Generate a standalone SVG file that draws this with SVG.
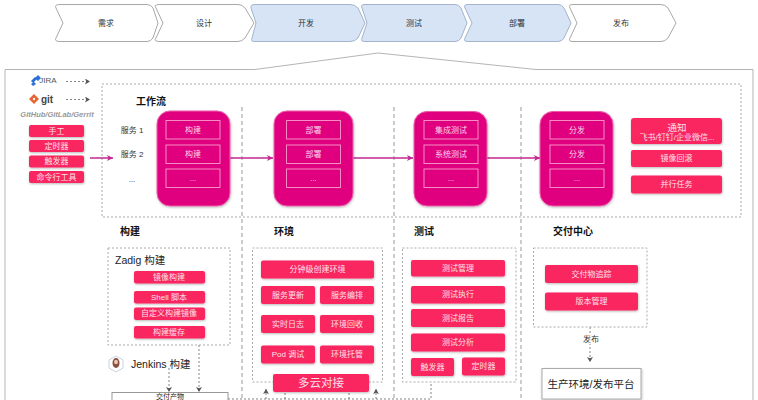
<svg xmlns="http://www.w3.org/2000/svg" width="758" height="400" viewBox="0 0 758 400">
<style>
text{font-family:"Liberation Sans","Noto Sans CJK SC",sans-serif;text-anchor:middle;dominant-baseline:central}
.w{fill:#fff;stroke:#a8a8a8;stroke-width:1}
.b{fill:#d6e4f6;stroke:#a3b4cc;stroke-width:1}
.st{font-size:8px;fill:#333}
.big{fill:#e0047f;stroke:#ec5cab;stroke-width:1;filter:url(#s)}
.in{fill:none;stroke:#f58cc4;stroke-width:1}
.iw{font-size:8px;fill:#fbd3e8}
.r{fill:#f92660;filter:url(#s)}
.rt{font-size:8px;fill:#fde0e8}
.h{font-size:10px;font-weight:bold;fill:#111}
.box{fill:none;stroke:#aaa;stroke-width:1;stroke-dasharray:2 2}
.dv{fill:none;stroke:#999;stroke-width:1;stroke-dasharray:4 3}
.dk{fill:none;stroke:#666;stroke-width:.8;stroke-dasharray:2 2}
.pa{fill:none;stroke:#c2278f;stroke-width:1.5}
.svc{font-size:8px;fill:#333}
</style>
<defs>
<filter id="s" x="-10%" y="-10%" width="125%" height="130%"><feDropShadow dx="0.5" dy="1" stdDeviation="0.8" flood-color="#000" flood-opacity="0.28"/></filter>
<marker id="ap" markerWidth="7" markerHeight="7" refX="6" refY="3" orient="auto" markerUnits="userSpaceOnUse"><path d="M0 0L6 3L0 6L1.5 3Z" fill="#c2278f"/></marker>
<marker id="ag" markerWidth="7" markerHeight="7" refX="5" refY="3" orient="auto" markerUnits="userSpaceOnUse"><path d="M0 0L5 3L0 6L1.2 3Z" fill="#555"/></marker>
</defs>
<rect width="758" height="400" fill="#fff"/>

<g id="stages">
<g id="stage-1"><path class="w" d="M60 4.500H147Q151 4.500 153 8L158 23L153 38Q151 41.500 147 41.500H60Q54 41.500 56 38L63 23L56 8Q54 4.500 60 4.500Z"/><text class="st" x="106" y="23">需求</text></g>
<g id="stage-2"><path class="w" d="M160 4.500H238Q242 4.500 245 8L254 23L245 38Q242 41.500 238 41.500H160Q153 41.500 156 38L163 23L156 8Q153 4.500 160 4.500Z"/><text class="st" x="204" y="23">设计</text></g>
<g id="stage-3"><path class="b" d="M255 4.500H350Q355 4.500 358 8L365 23L358 38Q355 41.500 350 41.500H255Q250 41.500 252 38L256 23L251 8Q250 4.500 255 4.500Z"/><text class="st" x="306" y="23">开发</text></g>
<g id="stage-4"><path class="b" d="M365 4.500H455Q459 4.500 461 8L467 23L461 38Q459 41.500 455 41.500H365Q360 41.500 362 38L367 23L362 8Q360 4.500 365 4.500Z"/><text class="st" x="414" y="23">测试</text></g>
<g id="stage-5"><path class="b" d="M468 4.500H558Q562 4.500 564 8L571 23L564 38Q562 41.500 558 41.500H468Q463 41.500 465 38L472 23L465 8Q463 4.500 468 4.500Z"/><text class="st" x="517" y="23">部署</text></g>
<g id="stage-6"><path class="w" d="M573 4.500H661Q665 4.500 668 8L676 23L668 38Q665 41.500 661 41.500H573Q568 41.500 570 38L577 23L570 8Q568 4.500 573 4.500Z"/><text class="st" x="621" y="23">发布</text></g>
</g>

<path id="frame" d="M5 400V69.500H255L378 53L536 69.500H753V400" fill="none" stroke="#b5b5b5" stroke-width="1"/>

<rect id="workflow-box" class="box" x="102" y="84" width="639" height="133"/>
<path class="dv" d="M242 107V400M394 107V400M521 107V400"/>

<g id="sources">
<g id="jira"><path d="M31 81L35 77L37 79L33 83ZM35 78L38 75L41 78L38 81ZM31 84l3 -2l2 2l-3 2Z" fill="#2a6fd6"/><text x="48" y="80.500" font-size="8" fill="#555">JIRA</text></g>
<g id="git"><path d="M34 94L39 99L34 104L29 99Z" fill="#e8632f"/><circle cx="34" cy="99" r="1.200" fill="#fff"/><text x="47" y="99" font-size="10" font-weight="bold" fill="#444">git</text></g>
<text x="57" y="114.500" font-size="7.500" font-style="italic" font-weight="bold" fill="#999">GitHub/GitLab/Gerrit</text>
<g id="trigger-1"><rect class="r" x="29" y="125" width="55" height="12" rx="2"/><text class="rt" x="56.500" y="131">手工</text></g>
<g id="trigger-2"><rect class="r" x="29" y="140" width="55" height="12" rx="2"/><text class="rt" x="56.500" y="146.500">定时器</text></g>
<g id="trigger-3"><rect class="r" x="29" y="155.500" width="55" height="12" rx="2"/><text class="rt" x="56.500" y="161.500">触发器</text></g>
<g id="trigger-4"><rect class="r" x="29" y="171" width="55" height="12" rx="2"/><text class="rt" x="56.500" y="177">命令行工具</text></g>
</g>

<text class="h" x="151" y="101.500">工作流</text>
<text class="svc" x="132" y="130">服务 1</text>
<text class="svc" x="132" y="154">服务 2</text>
<text class="svc" x="132" y="179">...</text>

<g id="connectors">
<path class="dk" d="M66 81.500H90" marker-end="url(#ag)"/>
<path class="dk" d="M66 99.500H90" marker-end="url(#ag)"/>
<path class="pa" d="M90 158H113" marker-end="url(#ap)"/>
<path class="pa" d="M230 158H273" marker-end="url(#ap)"/>
<path class="pa" d="M353 158H413" marker-end="url(#ap)"/>
<path class="pa" d="M487 158H540" marker-end="url(#ap)"/>
<path class="dk" d="M169 368V392" marker-end="url(#ag)"/>
<path class="dk" d="M199 345V392" marker-end="url(#ag)"/>
<path class="dk" d="M590 327V362" marker-end="url(#ag)"/>
<path class="dk" d="M228 399H431V382"/>
<path class="dk" d="M266 399V389" marker-end="url(#ag)"/>
<path class="dk" d="M376 399V389" marker-end="url(#ag)"/>
<path class="dk" d="M285 393V399M349 393V399"/>
</g>

<g id="build-stage"><rect class="big" x="157" y="111" width="73" height="95" rx="13"/>
<rect class="in" x="166" y="120.500" width="54" height="18.500"/><text class="iw" x="193" y="130">构建</text>
<rect class="in" x="166" y="145" width="54" height="18.500"/><text class="iw" x="193" y="154">构建</text>
<rect class="in" x="166" y="169" width="54" height="18.500"/><text class="iw" x="193" y="178">...</text></g>
<g id="deploy-stage"><rect class="big" x="274" y="111" width="79" height="95" rx="13"/>
<rect class="in" x="286.500" y="120.500" width="54" height="18.500"/><text class="iw" x="313.500" y="130">部署</text>
<rect class="in" x="286.500" y="145" width="54" height="18.500"/><text class="iw" x="313.500" y="154">部署</text>
<rect class="in" x="286.500" y="169" width="54" height="18.500"/><text class="iw" x="313.500" y="178">...</text></g>
<g id="test-stage"><rect class="big" x="414" y="111.500" width="73" height="94.500" rx="13"/>
<rect class="in" x="424" y="120.500" width="54" height="18.500"/><text class="iw" x="451" y="130">集成测试</text>
<rect class="in" x="424" y="145" width="54" height="18.500"/><text class="iw" x="451" y="154">系统测试</text>
<rect class="in" x="424" y="169" width="54" height="18.500"/><text class="iw" x="451" y="178">...</text></g>
<g id="release-stage"><rect class="big" x="540" y="111.500" width="73" height="94.500" rx="13"/>
<rect class="in" x="550" y="120.500" width="54" height="18.500"/><text class="iw" x="577" y="130">分发</text>
<rect class="in" x="550" y="145" width="54" height="18.500"/><text class="iw" x="577" y="154">分发</text>
<rect class="in" x="550" y="169" width="54" height="18.500"/><text class="iw" x="577" y="178">...</text></g>

<g id="notify"><rect class="r" x="631" y="118" width="91" height="26" rx="3"/><text x="677" y="127" font-size="9.500" fill="#fde0e8">通知</text><text x="677" y="137" font-size="8" fill="#fde0e8">飞书/钉钉/企业微信...</text></g>
<g id="rollback"><rect class="r" x="631" y="150" width="91" height="17" rx="2"/><text class="rt" x="676.500" y="158.500">镜像回滚</text></g>
<g id="parallel"><rect class="r" x="631" y="175.500" width="91" height="18" rx="2"/><text class="rt" x="676.500" y="184.500">并行任务</text></g>

<g id="build-section">
<text class="h" x="130" y="231.500">构建</text>
<rect class="box" x="108" y="248" width="122" height="97"/>
<text x="115" y="259.500" font-size="10.500" fill="#222" style="text-anchor:start">Zadig 构建</text>
<g id="b1"><rect class="r" x="134" y="271" width="71" height="12.500" rx="2"/><text class="rt" x="169" y="277.500">镜像构建</text></g>
<g id="b2"><rect class="r" x="134" y="291" width="71" height="12.500" rx="2"/><text class="rt" x="169" y="297">Shell 脚本</text></g>
<g id="b3"><rect class="r" x="134" y="307.500" width="71" height="12.500" rx="2"/><text class="rt" x="169" y="313.500">自定义构建镜像</text></g>
<g id="b4"><rect class="r" x="134" y="326" width="71" height="12.500" rx="2"/><text class="rt" x="169" y="332">构建缓存</text></g>
<g id="jenkins"><path d="M116 356L123 360V368L116 372L109 368V360Z" fill="#fff" stroke="#c9d3e2"/><ellipse cx="116" cy="363" rx="3.500" ry="5" fill="#8b4f3e"/><ellipse cx="116" cy="362" rx="2" ry="2.200" fill="#e8c9b0"/><text x="131" y="364" font-size="10.500" fill="#222" style="text-anchor:start">Jenkins 构建</text></g>
<g id="artifact"><rect x="112" y="392.500" width="116" height="20" fill="#fff" stroke="#999"/><text x="170" y="396.300" font-size="7" fill="#222">交付产物</text></g>
</g>

<g id="env-section">
<text class="h" x="284" y="231.500">环境</text>
<rect class="box" x="252.500" y="248" width="130" height="134"/>
<g><rect class="r" x="261" y="260.500" width="113" height="18" rx="2"/><text class="rt" x="317.500" y="269.500">分钟级创建环境</text></g>
<g><rect class="r" x="261" y="286" width="54" height="18" rx="2"/><text class="rt" x="288" y="295">服务更新</text></g>
<g><rect class="r" x="320" y="286" width="54" height="18" rx="2"/><text class="rt" x="347" y="295">服务编排</text></g>
<g><rect class="r" x="261" y="315" width="54" height="18" rx="2"/><text class="rt" x="288" y="324">实时日志</text></g>
<g><rect class="r" x="320" y="315" width="54" height="18" rx="2"/><text class="rt" x="347" y="324">环境回收</text></g>
<g><rect class="r" x="261" y="345.500" width="54" height="18" rx="2"/><text class="rt" x="288" y="354.500">Pod 调试</text></g>
<g><rect class="r" x="320" y="345.500" width="54" height="18" rx="2"/><text class="rt" x="347" y="354.500">环境托管</text></g>
<g><rect class="r" x="273" y="374" width="96" height="18" rx="2"/><text x="321" y="383" font-size="11.500" fill="#fde0e8">多云对接</text></g>
</g>

<g id="test-section">
<text class="h" x="424" y="231.500">测试</text>
<rect class="box" x="402.500" y="248" width="113.500" height="134"/>
<g><rect class="r" x="411" y="260" width="94" height="16.500" rx="2"/><text class="rt" x="458" y="268">测试管理</text></g>
<g><rect class="r" x="411" y="286" width="94" height="17.500" rx="2"/><text class="rt" x="458" y="294.500">测试执行</text></g>
<g><rect class="r" x="411" y="309" width="94" height="18" rx="2"/><text class="rt" x="458" y="318">测试报告</text></g>
<g><rect class="r" x="411" y="333.500" width="94" height="18" rx="2"/><text class="rt" x="458" y="342.500">测试分析</text></g>
<g><rect class="r" x="411" y="358" width="43" height="18" rx="2"/><text class="rt" x="432.500" y="367">触发器</text></g>
<g><rect class="r" x="462" y="357.500" width="43" height="18" rx="2"/><text class="rt" x="483.500" y="366.500">定时器</text></g>
</g>

<g id="delivery-section">
<text class="h" x="573" y="231.500">交付中心</text>
<rect class="box" x="533.500" y="248" width="113.500" height="79"/>
<g><rect class="r" x="545" y="265" width="93" height="18" rx="2"/><text class="rt" x="591.500" y="274">交付物追踪</text></g>
<g><rect class="r" x="545" y="292.500" width="93" height="18" rx="2"/><text class="rt" x="591.500" y="301.500">版本管理</text></g>
<text x="591" y="339.500" font-size="8" fill="#333" paint-order="stroke" stroke="#fff" stroke-width="2">发布</text>
<g id="production"><rect x="542" y="368.500" width="99" height="30.500" fill="#fff" stroke="#aaa" filter="url(#s)"/><text x="591" y="383.500" font-size="10.500" fill="#222">生产环境/发布平台</text></g>
</g>
</svg>
